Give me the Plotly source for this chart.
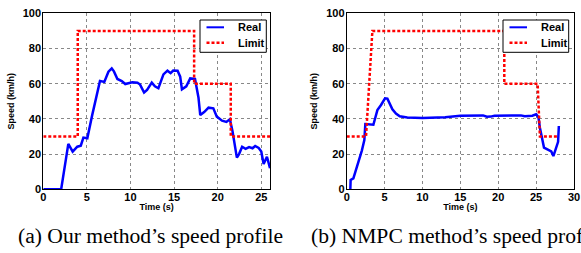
import plotly.graph_objects as go

# (a) Our method
a_real_t = [0, 2.05, 2.87, 3.37, 3.9, 4.3, 4.6, 5.05, 5.6, 6.2, 6.5, 7.0, 7.47, 7.85, 8.1, 8.5, 9.0, 9.4, 10.2, 10.8, 11.1, 11.56, 11.9, 12.44, 12.8, 13.2, 13.78, 14.24, 14.6, 14.9, 15.4, 15.7, 15.9, 16.4, 16.85, 17.4, 17.8, 18.0, 18.45, 18.95, 19.5, 19.9, 20.5, 21.0, 21.4, 21.7, 22.2, 22.45, 22.8, 23.2, 23.6, 24.0, 24.3, 24.7, 25.0, 25.27, 25.65, 26.0]
a_real_v = [0, 0, 25.8, 21.4, 24.2, 24.8, 29.4, 29.0, 42, 55, 61.5, 61.0, 66.8, 68.7, 67, 62.7, 61.5, 59.8, 60.8, 60.5, 59.5, 55, 56.5, 60.6, 58.5, 57.4, 65.3, 67.4, 66, 67.5, 67.4, 64, 56.8, 58.5, 63, 62.7, 52, 42.2, 43.9, 46.4, 46, 41.3, 39, 38.3, 39.8, 33, 18, 20, 24.2, 23, 24, 23.3, 24.6, 23.5, 21.5, 14.4, 18.5, 12]
a_lim_t = [0, 3.95, 3.95, 17.3, 17.3, 21.5, 21.5, 26]
a_lim_v = [30, 30, 90, 90, 60, 60, 30, 30]

# (b) NMPC method
b_real_t = [0.48, 0.52, 0.88, 1.54, 2.0, 2.33, 2.46, 3.52, 4.05, 4.53, 5.06, 5.37, 5.7, 6.03, 6.5, 7.0, 8.0, 10, 13, 15, 18, 18.5, 19.0, 19.5, 23, 23.5, 24.5, 25.0, 25.3, 25.5, 26.04, 27.0, 27.28, 27.6, 27.9, 28.0]
b_real_v = [0, 5.3, 6.2, 14.8, 22, 28, 37.1, 36.7, 45, 47.9, 51.7, 51.5, 48, 45.5, 43, 41.5, 40.8, 40.5, 41, 41.8, 42, 41.2, 41.3, 41.8, 42, 41.5, 41.8, 42.6, 41, 35, 23.7, 21.5, 18.9, 23, 27, 36]
b_lim_t = [0, 2.55, 3.39, 20.8, 20.8, 25.2, 25.5, 27.8]
b_lim_v = [30, 30, 90, 90, 60, 60, 30, 30]

x_ticks_a = [0, 5, 10, 15, 20, 25]
x_ticks_b = [0, 5, 10, 15, 20, 25, 30]
y_ticks = [0, 20, 40, 60, 80, 100]

series_names = ["Real", "Limit"]
captions = ["(a) Our method\u2019s speed profile", "(b) NMPC method\u2019s speed profile"]

W, H = 581, 253
BLUE = "#0000ff"
RED = "#ff0000"
DASH = "3px,2px"
TICKFONT = dict(family="Liberation Sans", size=11, color="black", weight="bold")
TITLEFONT = dict(family="Liberation Sans", size=9, color="black", weight="bold")
LEGFONT = dict(family="Liberation Sans", size=11, color="black", weight="bold")


def px(x):
    return x / W


def py(y):
    return 1 - y / H


fig = go.Figure()
fig.add_trace(go.Scatter(x=a_real_t, y=a_real_v, mode="lines", name=series_names[0],
                         line=dict(color=BLUE, width=2.5), xaxis="x", yaxis="y"))
fig.add_trace(go.Scatter(x=a_lim_t, y=a_lim_v, mode="lines", name=series_names[1],
                         line=dict(color=RED, width=2.5, dash=DASH), xaxis="x", yaxis="y"))
fig.add_trace(go.Scatter(x=b_real_t, y=b_real_v, mode="lines", name=series_names[0],
                         line=dict(color=BLUE, width=2.5), xaxis="x2", yaxis="y2"))
fig.add_trace(go.Scatter(x=b_lim_t, y=b_lim_v, mode="lines", name=series_names[1],
                         line=dict(color=RED, width=2.5, dash=DASH), xaxis="x2", yaxis="y2"))

y0, y1 = py(189.3), py(13.3)
axcommon = dict(showline=True, mirror=True, linecolor="black", linewidth=1,
                showgrid=True, gridcolor="#888888", griddash="dot", gridwidth=1,
                zeroline=False, tickfont=TICKFONT, ticks="", fixedrange=True,
                automargin=False)
xcommon = dict(axcommon, ticklabelstandoff=-3)
ycommon = dict(axcommon, ticklabelstandoff=-1)

# manual legends (box, sample lines, labels)
shapes = []
annotations = []
for bx0, bx1 in [(200, 266.3), (503, 568.7)]:
    shapes.append(dict(type="rect", xref="paper", yref="paper",
                       x0=px(bx0), x1=px(bx1), y0=py(52.3), y1=py(20),
                       line=dict(color="black", width=1), fillcolor="white", layer="above"))
    shapes.append(dict(type="line", xref="paper", yref="paper",
                       x0=px(bx0 + 6.5), x1=px(bx0 + 24), y0=py(27.3), y1=py(27.3),
                       line=dict(color=BLUE, width=2), layer="above"))
    shapes.append(dict(type="line", xref="paper", yref="paper",
                       x0=px(bx0 + 6.5), x1=px(bx0 + 24), y0=py(42.7), y1=py(42.7),
                       line=dict(color=RED, width=2.5, dash=DASH), layer="above"))
    for name, yy in zip(series_names, [27.3, 42.7]):
        annotations.append(dict(text=name, x=px(bx0 + 35.5), y=py(yy), xref="paper", yref="paper",
                                xanchor="left", yanchor="middle", showarrow=False,
                                font=LEGFONT))

for cap, cx in zip(captions, [16, 309]):
    annotations.append(dict(text=cap, x=px(cx), y=py(236), xref="paper", yref="paper",
                            xanchor="left", yanchor="middle", showarrow=False,
                            font=dict(family="Liberation Serif", size=21.6, color="black")))

fig.update_layout(
    width=W, height=H,
    margin=dict(l=0, r=0, t=0, b=0, autoexpand=False),
    paper_bgcolor="white", plot_bgcolor="white",
    showlegend=False,
    xaxis=dict(domain=[px(43.3), px(270)], range=[0, 26], tickvals=x_ticks_a,
               title=dict(text="Time (s)", font=TITLEFONT, standoff=0), anchor="y", **xcommon),
    yaxis=dict(domain=[y0, y1], range=[0, 100], tickvals=y_ticks,
               title=dict(text="Speed (km/h)", font=TITLEFONT, standoff=6), anchor="x", **ycommon),
    xaxis2=dict(domain=[px(346.7), px(574)], range=[0, 30], tickvals=x_ticks_b,
                title=dict(text="Time (s)", font=TITLEFONT, standoff=0), anchor="y2", **xcommon),
    yaxis2=dict(domain=[y0, y1], range=[0, 100], tickvals=y_ticks,
                title=dict(text="Speed (km/h)", font=TITLEFONT, standoff=6), anchor="x2", **ycommon),
    shapes=shapes,
    annotations=annotations,
)

fig.write_html("out.html", config={"displayModeBar": False},
               post_script="document.body.style.margin='0px';document.body.style.overflow='hidden';")
